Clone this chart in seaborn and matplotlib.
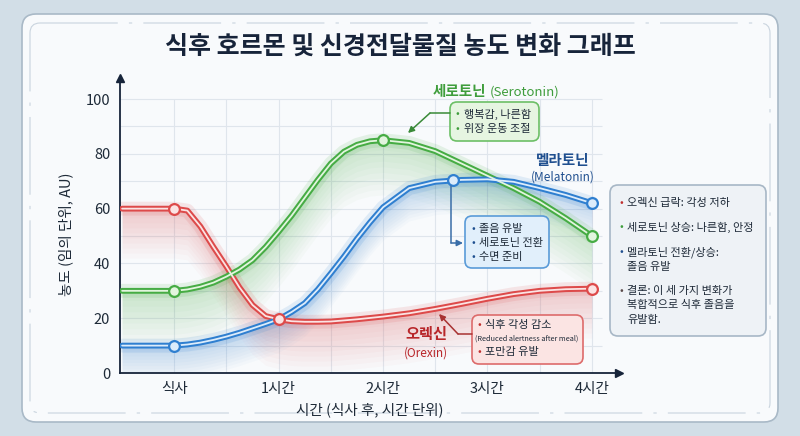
import numpy as np
import matplotlib
matplotlib.use("Agg")
import matplotlib.pyplot as plt
from matplotlib.patches import FancyBboxPatch
import seaborn as sns

# data (hours after the meal, arbitrary units)
hours = [-0.5, -0.25, 0, 0.125, 0.25, 0.375, 0.5, 0.625, 0.75, 0.875, 1,
         1.125, 1.25, 1.375, 1.5, 1.625, 1.75, 1.875, 2,
         2.25, 2.5, 2.75, 3, 3.25, 3.5, 3.75, 4]
orexin = [60, 60, 60, 59.3, 53.5, 46, 38.8, 31.2, 24.8, 20.8, 19.6,
          18.9, 18.7, 18.7, 18.8, 19.2, 19.6, 20.1, 20.6,
          21.8, 23.4, 25.2, 27.1, 28.8, 30, 30.6, 30.8]
serotonin = [30, 30, 30, 30.5, 31.5, 33, 35.2, 37.8, 41.2, 46, 51.6,
             57.5, 64, 70.5, 76.5, 80.8, 83.3, 84.6, 85,
             84, 81, 76.5, 72, 67.5, 62.5, 56.5, 50]
melatonin = [10, 10, 10, 10.4, 11.1, 12.1, 13.3, 14.7, 16.3, 17.9, 19.6,
             22.3, 25.5, 30.5, 36.4, 42.5, 49, 55, 60.5,
             67.5, 69.8, 70.5, 70.7, 69.8, 67.5, 65, 62]

# highlighted points (circle markers)
orexin_pts_x = [0, 1, 4]
orexin_pts_y = [60, 19.6, 30.8]
serotonin_pts_x = [0, 2, 4]
serotonin_pts_y = [30, 85, 50]
melatonin_pts_x = [0, 2.67, 4]
melatonin_pts_y = [10, 70.4, 62]

tick_pos = [0, 1, 2, 3, 4]
tick_labels = ['식사', '1시간', '2시간', '3시간', '4시간']

sns.set_theme(style='white')
plt.rcParams['font.family'] = ['Noto Sans CJK KR', 'DejaVu Sans']

fig = plt.figure(figsize=(8, 4.36), dpi=100, facecolor='#d2dee7')

# background card, pixel coordinates
bg = fig.add_axes([0, 0, 1, 1], zorder=0)
bg.set_xlim(0, 800)
bg.set_ylim(436, 0)
bg.axis('off')
bg.add_patch(FancyBboxPatch((22, 14), 756, 408, boxstyle='round,pad=0,rounding_size=14',
                            fc='#f8fafc', ec='#a9b9c7', lw=1.2))
bg.add_patch(FancyBboxPatch((30, 23), 740, 390, boxstyle='round,pad=0,rounding_size=10',
                            fc='none', ec='#c9d4de', lw=0.8, ls=(0, (70, 10, 3, 10))))
bg.text(400, 47, '식후 호르몬 및 신경전달물질 농도 변화 그래프', ha='center', va='center',
        fontsize=18, weight='bold', color='#17243a')

# main chart
ax = fig.add_axes([120 / 800, 63 / 436, 499 / 800, 295 / 436], zorder=2)
ax.patch.set_alpha(0)
ax.set_xlim(-0.52, 4.26)
ax.set_ylim(0, 107.7)

ax.vlines(np.arange(0, 4.01, 0.5), 0, 100, color='#dfe5ec', lw=0.8, zorder=0)
ax.hlines(np.arange(10, 101, 10), -0.52, 4.1, color='#dfe5ec', lw=0.8, zorder=0)

series = [
    (orexin, '#dd4a4a', '#fbe3e3', orexin_pts_x, orexin_pts_y, 18),
    (serotonin, '#46ac44', '#e2f5de', serotonin_pts_x, serotonin_pts_y, 20),
    (melatonin, '#2f7fd0', '#dcecfb', melatonin_pts_x, melatonin_pts_y, 12),
]
for vals, col, tint, px, py, depth in series:
    v = np.array(vals)
    # soft glow under each curve
    for d in np.linspace(1.5, depth, 10):
        ax.fill_between(hours, np.maximum(v - d, 0), v, color=col, alpha=0.026, lw=0, zorder=1)
    ax.plot(hours, v, color=col, lw=10, alpha=0.12, zorder=2, solid_capstyle='round',
            solid_joinstyle='round')
    sns.lineplot(x=hours, y=vals, ax=ax, color=col, lw=4.2, zorder=3, sort=False,
                 solid_joinstyle='round')
    sns.lineplot(x=hours, y=vals, ax=ax, color=tint, lw=1.3, zorder=4, sort=False,
                 solid_joinstyle='round')
    sns.scatterplot(x=px, y=py, ax=ax, s=60, color=tint, edgecolor=col, linewidth=1.6, zorder=6)

for s in ['top', 'right']:
    ax.spines[s].set_visible(False)
for s in ['left', 'bottom']:
    ax.spines[s].set_color('#17243a')
    ax.spines[s].set_linewidth(1.3)
ax.plot(1, 0, '>', color='#17243a', ms=6, transform=ax.transAxes, clip_on=False)
ax.plot(0, 1, '^', color='#17243a', ms=6, transform=ax.transAxes, clip_on=False)

ax.set_xticks(tick_pos, tick_labels)
ax.set_yticks(range(0, 101, 20))
ax.tick_params(axis='x', direction='inout', length=7, color='#17243a', labelsize=10.5,
               labelcolor='#1e2a38', pad=3, width=1.1)
ax.tick_params(axis='y', direction='out', length=4, color='#17243a', labelsize=10.5,
               labelcolor='#1e2a38', pad=3, width=1.1)
ax.set_xlabel('시간 (식사 후, 시간 단위)', fontsize=10.5, color='#1e2a38')
ax.set_ylabel('농도 (임의 단위, AU)', fontsize=10.5, color='#1e2a38')
ax.xaxis.set_label_coords(0.5, -0.098)
ax.yaxis.set_label_coords(-0.094, 0.47)

# annotation overlay, pixel coordinates
ov = fig.add_axes([0, 0, 1, 1], zorder=5)
ov.set_xlim(0, 800)
ov.set_ylim(436, 0)
ov.axis('off')

dark = '#1e2a38'


def note_box(x0, y0, x1, y1, fc, ec, r=7):
    ov.add_patch(FancyBboxPatch((x0, y0), x1 - x0, y1 - y0,
                                boxstyle=f'round,pad=0,rounding_size={r}',
                                fc=fc, ec=ec, lw=1.2))


def bullet(x, y, text, bcol, size=8):
    ov.text(x, y, '•', color=bcol, fontsize=size, ha='left', va='center')
    ov.text(x + 8, y, text, color=dark, fontsize=size, ha='left', va='center')


def connector(pts, col):
    xs = [p[0] for p in pts]
    ys = [p[1] for p in pts]
    ov.plot(xs[:-1], ys[:-1], color=col, lw=1.1)
    ov.annotate('', xy=pts[-1], xytext=pts[-2],
                arrowprops=dict(arrowstyle='-|>', color=col, lw=1.1,
                                shrinkA=0, shrinkB=0, mutation_scale=9))


# serotonin
ov.text(486, 91, '세로토닌', color='#3f9d3c', fontsize=10.5, weight='bold', ha='right', va='center')
ov.text(490, 92, '(Serotonin)', color='#3f9d3c', fontsize=9.5, ha='left', va='center')
note_box(450, 102, 539, 141, '#e6f5e1', '#6cbf66')
bullet(456, 114, '행복감, 나른함', '#3f9d3c')
bullet(456, 129, '위장 운동 조절', '#3f9d3c')
connector([(450, 113), (430, 113), (408, 133)], '#3a8a38')

# melatonin
ov.text(563, 160, '멜라토닌', color='#1f4f8f', fontsize=10.5, weight='bold', ha='center', va='center')
ov.text(563, 177, '(Melatonin)', color='#1f4f8f', fontsize=8.5, ha='center', va='center')
note_box(465, 216, 549, 268, '#e1effb', '#5a9bd8')
bullet(471, 229, '졸음 유발', '#1f4f8f')
bullet(471, 243, '세로토닌 전환', '#1f4f8f')
bullet(471, 257, '수면 준비', '#1f4f8f')
connector([(451, 186), (451, 243), (463, 243)], '#3a6ea8')

# orexin
ov.text(426, 334, '오렉신', color='#b8262a', fontsize=11, weight='bold', ha='center', va='center')
ov.text(426, 353, '(Orexin)', color='#b8262a', fontsize=8.5, ha='center', va='center')
note_box(472, 315, 583, 364, '#fbe4e3', '#dd6b6b')
bullet(477, 325, '식후 각성 감소', '#c0302f')
ov.text(475, 339, '(Reduced alertness after meal)', color=dark, fontsize=5.3, ha='left', va='center')
bullet(477, 352, '포만감 유발', '#c0302f')
connector([(472, 334), (458, 334), (439, 314)], '#a83232')

# summary box
note_box(610, 185, 766, 336, '#eef2f6', '#a7b7c6', r=8)
bullet(619, 203, '오렉신 급락: 각성 저하', '#c0302f')
bullet(619, 227, '세로토닌 상승: 나른함, 안정', '#3f9d3c')
bullet(619, 252, '멜라토닌 전환/상승:', '#1f4f8f')
ov.text(627, 267, '졸음 유발', color=dark, fontsize=8, ha='left', va='center')
bullet(619, 291, '결론: 이 세 가지 변화가', '#5a4a4a')
ov.text(627, 305, '복합적으로 식후 졸음을', color=dark, fontsize=8, ha='left', va='center')
ov.text(627, 320, '유발함.', color=dark, fontsize=8, ha='left', va='center')

fig.savefig('out.png', dpi=100, facecolor=fig.get_facecolor())
